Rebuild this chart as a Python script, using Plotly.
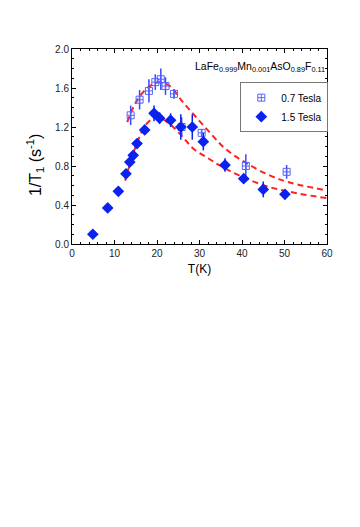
import plotly.graph_objects as go

# 0.7 Tesla (open squares)
t_07 = [13.8, 15.9, 18.1, 19.6, 20.9, 22.0, 24.0, 25.8, 30.5, 40.9, 50.5]
r_07 = [1.32, 1.48, 1.57, 1.66, 1.69, 1.62, 1.54, 1.20, 1.14, 0.80, 0.74]
e_07 = [0.10, 0.10, 0.12, 0.08, 0.11, 0.09, 0.05, 0.10, 0.04, 0.12, 0.07]

# 1.5 Tesla (filled diamonds)
t_15 = [4.9, 8.4, 10.9, 12.7, 13.6, 14.4, 15.3, 17.1, 19.3, 20.6, 23.2, 25.6, 28.3, 30.9, 36.0, 40.4, 45.0, 50.1]
r_15 = [0.10, 0.37, 0.54, 0.72, 0.84, 0.91, 1.03, 1.17, 1.34, 1.29, 1.27, 1.20, 1.20, 1.05, 0.81, 0.67, 0.56, 0.51]
e_15 = [0.0, 0.0, 0.0, 0.03, 0.03, 0.03, 0.03, 0.04, 0.08, 0.06, 0.07, 0.13, 0.13, 0.09, 0.07, 0.03, 0.08, 0.03]

# dashed fit curves
fit_hi_t = [13.0, 15.0, 17.5, 20.5, 23.0, 26.0, 29.0, 32.5, 36.0, 41.0, 49.0, 60.0]
fit_hi_r = [1.25, 1.45, 1.59, 1.66, 1.62, 1.46, 1.31, 1.14, 0.98, 0.83, 0.66, 0.55]
fit_lo_t = [12.5, 15.0, 17.5, 20.0, 23.0, 26.0, 28.5, 32.0, 35.0, 40.0, 46.0, 53.0, 60.0]
fit_lo_r = [0.65, 1.00, 1.23, 1.30, 1.23, 1.10, 0.98, 0.88, 0.80, 0.69, 0.59, 0.52, 0.47]

fig = go.Figure()

for tx, ry in [(fit_hi_t, fit_hi_r), (fit_lo_t, fit_lo_r)]:
    fig.add_trace(go.Scatter(x=tx, y=ry, mode='lines', showlegend=False,
                             line=dict(color='#ff2020', width=2, dash='6px,4px', shape='spline'),
                             hoverinfo='skip'))

fig.add_trace(go.Scatter(
    x=t_07, y=r_07, mode='markers', name='0.7 Tesla',
    marker=dict(symbol='square-cross-open', size=7, color='#5563ff', line=dict(width=1)),
    error_y=dict(type='data', array=e_07, color='#3a46ff', thickness=1.5, width=0)
))
fig.add_trace(go.Scatter(
    x=t_15, y=r_15, mode='markers', name='1.5 Tesla',
    marker=dict(symbol='diamond', size=9, color='#0a22f0'),
    error_y=dict(type='data', array=e_15, color='#0a22f0', thickness=1.5, width=0)
))

fig.add_annotation(
    text='LaFe<sub>0.999</sub>Mn<sub>0.001</sub>AsO<sub>0.89</sub>F<sub>0.11</sub>',
    xref='paper', yref='paper', x=0.475, y=0.91, xanchor='left', yanchor='middle',
    showarrow=False, font=dict(size=10.5, color='black')
)

# y title, sitting a bit below the axis centre as in the original
fig.add_annotation(
    text='1/T<sub>1</sub> (s<sup>-1</sup>)', textangle=-90,
    xref='paper', yref='paper', x=-0.145, y=0.405, xanchor='center', yanchor='middle',
    showarrow=False, font=dict(size=16, color='black')
)

axis_common = dict(
    showline=True, linecolor='black', linewidth=1, mirror='ticks',
    ticks='inside', ticklen=4, tickcolor='black', showgrid=False, zeroline=False,
    tickfont=dict(size=10, color='#222222')
)

fig.update_xaxes(range=[0, 60], dtick=10, title=dict(text='T(K)', font=dict(size=12), standoff=6),
                 minor=dict(dtick=2, ticks='inside', ticklen=2, tickcolor='black'), **axis_common)
fig.update_yaxes(range=[0, 2.0], dtick=0.4, tickformat='.1f',
                 minor=dict(dtick=0.1, ticks='inside', ticklen=2, tickcolor='black'), **axis_common)

fig.update_layout(
    width=360, height=527,
    margin=dict(l=64, r=41, t=41, b=291),
    paper_bgcolor='white', plot_bgcolor='white',
    font=dict(family='Liberation Sans, Arial, sans-serif', color='black'),
    legend=dict(x=0.66, y=0.83, xanchor='left', yanchor='top',
                bordercolor='#777777', borderwidth=1, bgcolor='white',
                font=dict(size=10), tracegroupgap=0, itemwidth=30),
)

fig.write_html('out.html')
